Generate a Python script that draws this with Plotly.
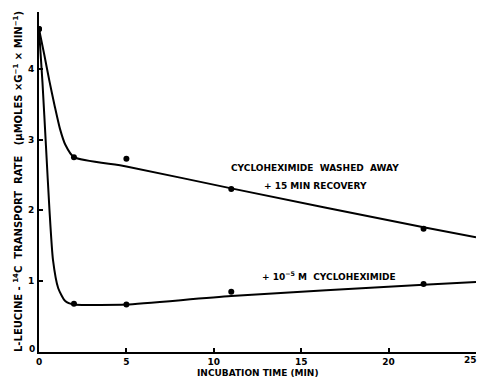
import plotly.graph_objects as go

# measured points
time_pts = [0, 2, 5, 11, 22]
washed_pts = [4.56, 2.75, 2.73, 2.30, 1.74]
treated_pts = [4.56, 0.68, 0.67, 0.85, 0.96]

# hand-drawn fit curves
washed_curve_x = [0, 0.3, 0.6, 0.9, 1.2, 1.5, 2, 5, 11, 22, 25]
washed_curve_y = [4.56, 4.2, 3.82, 3.47, 3.15, 2.93, 2.75, 2.62, 2.31, 1.76, 1.62]
treated_curve_x = [0, 0.2, 0.4, 0.6, 0.8, 1.1, 1.5, 2, 3.5, 5, 11, 22, 25]
treated_curve_y = [4.56, 3.8, 2.9, 2.0, 1.3, 0.9, 0.72, 0.67, 0.665, 0.67, 0.79, 0.95, 0.99]

x_ticks = [0, 5, 10, 15, 20, 25]
x_tick_labels = ["0", "5", "10", "15", "20", "25"]
y_ticks = [1, 2, 3, 4]
y_tick_labels = ["1", "2", "3", "4"]

FONT = "DejaVu Sans"

fig = go.Figure()
for cx, cy in [(washed_curve_x, washed_curve_y), (treated_curve_x, treated_curve_y)]:
    fig.add_trace(go.Scatter(x=cx, y=cy, mode="lines",
                             line=dict(color="black", width=2, shape="spline", smoothing=0.6),
                             hoverinfo="skip", showlegend=False))
for py in [washed_pts, treated_pts]:
    fig.add_trace(go.Scatter(x=time_pts, y=py, mode="markers",
                             marker=dict(color="black", size=6), showlegend=False))

fig.update_layout(
    width=480, height=379,
    margin=dict(l=39, r=4, t=12, b=27),
    paper_bgcolor="white", plot_bgcolor="white",
    font=dict(family=FONT, color="black", size=9),
    xaxis=dict(range=[0, 25], tickvals=x_ticks[:-1], ticktext=[f"<b>{t}</b>" for t in x_tick_labels[:-1]],
               ticks="inside", ticklen=4, tickwidth=1.5, tickcolor="black",
               showline=True, linecolor="black", linewidth=2, showgrid=False, zeroline=False,
               tickfont=dict(family=FONT, size=9, color="black"), ticklabelstandoff=0),
    yaxis=dict(range=[0, 4.8], tickvals=y_ticks, ticktext=[f"<b>{t}</b>" for t in y_tick_labels],
               ticks="inside", ticklen=4, tickwidth=1.5, tickcolor="black",
               showline=True, linecolor="black", linewidth=2, showgrid=False, zeroline=False,
               tickfont=dict(family=FONT, size=9, color="black"), ticklabelstandoff=1),
)

ann = [
    dict(x=15.8, y=2.60, text="<b>CYCLOHEXIMIDE  WASHED  AWAY</b>", xref="x", yref="y", font=dict(size=9)),
    dict(x=15.8, y=2.34, text="<b>+ 15 MIN RECOVERY</b>", xref="x", yref="y", font=dict(size=9)),
    dict(x=16.6, y=1.07, text="<b>+ 10<sup>−5</sup> M  CYCLOHEXIMIDE</b>", xref="x", yref="y", font=dict(size=9)),
    dict(x=0, y=0, text="<b>0</b>", xref="x", yref="y", xanchor="right", yanchor="bottom", xshift=-2,
         yshift=-4, font=dict(size=9)),
    dict(x=x_ticks[-1], y=0, text=f"<b>{x_tick_labels[-1]}</b>", xref="x", yref="y", xanchor="right",
         yanchor="top", xshift=3, yshift=-1, font=dict(size=9)),
    dict(x=0.5, y=0, text="<b>INCUBATION TIME (MIN)</b>", xref="paper", yref="paper", yanchor="top",
         yshift=-14, font=dict(size=9)),
    dict(x=0, y=0.5, text="<b>L-LEUCINE - <sup>14</sup>C  TRANSPORT  RATE   (μMOLES ×G<sup>−1</sup> × MIN<sup>−1</sup>)</b>",
         xref="paper", yref="paper", textangle=-90, xanchor="center", xshift=-21, font=dict(size=10)),
]
for a in ann:
    a["showarrow"] = False
fig.update_layout(annotations=ann)

fig.write_html("out.html", config={"displayModeBar": False},
               post_script="document.body.style.margin='0';document.body.style.overflow='hidden';")
